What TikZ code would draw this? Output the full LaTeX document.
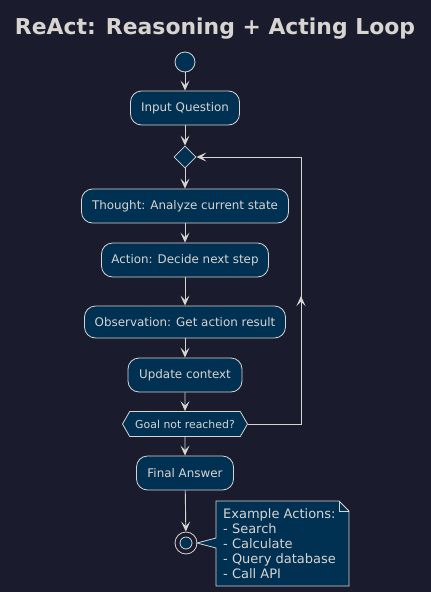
\documentclass[tikz,border=0pt]{standalone}
\usepackage{fontspec}
\setmainfont{DejaVu Sans}
\usetikzlibrary{arrows.meta,shapes.geometric,shapes.misc,shapes.symbols}
\definecolor{bg}{RGB}{27,27,46}
\definecolor{boxfill}{RGB}{0,49,83}
\definecolor{ink}{RGB}{216,212,208}
\tikzset{
  act/.style={draw=ink, fill=boxfill, rounded corners=11pt, line width=0.8pt, text=ink,
    font=\fontsize{11.9}{14}\selectfont, minimum height=34pt, inner xsep=8pt, inner ysep=0pt},
  flow/.style={draw=ink, line width=0.9pt, -{Stealth[length=10pt,width=9pt,inset=4.5pt]}},
  tip/.style={-{Stealth[length=10pt,width=9pt,inset=4.5pt]}}
}
\begin{document}
\begin{tikzpicture}[x=1pt,y=-1pt]
\fill[bg] (0,0) rectangle (431,592);
\useasboundingbox (0,0) rectangle (431,592);
\node[text=ink, font=\bfseries\fontsize{21.9}{26}\selectfont] (title) at (215,29) {ReAct: Reasoning + Acting Loop};
\node[circle, draw=ink, fill=boxfill, line width=0.8pt, minimum size=20pt, inner sep=0pt] (start) at (185,62) {};
\node[act, minimum width=109pt] (input) at (185,108) {Input Question};
\node[diamond, draw=ink, fill=boxfill, line width=0.8pt, minimum width=22pt, minimum height=22pt, inner sep=0pt] (dec) at (185,157) {};
\node[act, minimum width=207pt] (thought) at (185,206) {Thought: Analyze current state};
\node[act, minimum width=167pt] (action) at (185,260) {Action: Decide next step};
\node[act, minimum width=201pt, minimum height=32pt] (obs) at (185,322) {Observation: Get action result};
\node[act, minimum width=114pt] (upd) at (185,375) {Update context};
\node[draw=ink, fill=boxfill, line width=0.8pt, text=ink, font=\fontsize{10.9}{12}\selectfont,
  signal, signal to=east and west, signal pointer angle=120, minimum width=125pt, minimum height=25pt, inner sep=2pt] (goal) at (185,424) {Goal not reached?};
\node[act, minimum width=97pt] (final) at (185,473) {Final Answer};
\node[circle, draw=ink, fill=bg, line width=0.8pt, minimum size=22pt, inner sep=0pt] (stop) at (186,543) {};
\node[circle, draw=ink, fill=boxfill, line width=0.8pt, minimum size=12pt, inner sep=0pt] (stopin) at (186,543) {};
% note
\coordinate (n1) at (216,501);
\coordinate (n2) at (339,501);
\coordinate (n3) at (349,511);
\coordinate (n4) at (349,586);
\coordinate (n5) at (216,586);
\coordinate (wa) at (216,538);
\coordinate (wb) at (216,548);
\coordinate (wt) at (197,543);
\fill[boxfill] (n1) -- (n2) -- (n3) -- (n4) -- (n5) -- cycle;
\fill[boxfill] (wa) -- (wt) -- (wb) -- cycle;
\draw[ink, line width=0.8pt] (wa) -- (n1) -- (n2) -- (n3) -- (n4) -- (n5) -- (wb) -- (wt) -- (wa);
\draw[ink, line width=0.8pt] (n2) -- (339,511) -- (n3);
\node[anchor=north west, text=ink, font=\fontsize{13}{15.2}\selectfont, align=left, inner sep=0pt] (note) at (223,508)
  {Example Actions:\\- Search\\- Calculate\\- Query database\\- Call API};
% flows
\draw[flow] (start) -- (input);
\draw[flow] (input) -- (dec);
\draw[flow] (dec) -- (thought);
\draw[flow] (thought) -- (action);
\draw[flow] (action) -- (obs);
\draw[flow] (obs) -- (upd);
\draw[flow] (upd) -- (goal);
\draw[flow] (goal) -- (final);
\draw[flow] (final) -- (stop);
\coordinate (lr) at (301,424);
\coordinate (lt) at (301,157);
\coordinate (lm) at (301,296);
\draw[flow] (goal.east) -- (lr) -- (lt) -- (dec.east);
\draw[draw=ink, line width=0.9pt, tip] (lr) -- (lm);
\end{tikzpicture}
\end{document}
